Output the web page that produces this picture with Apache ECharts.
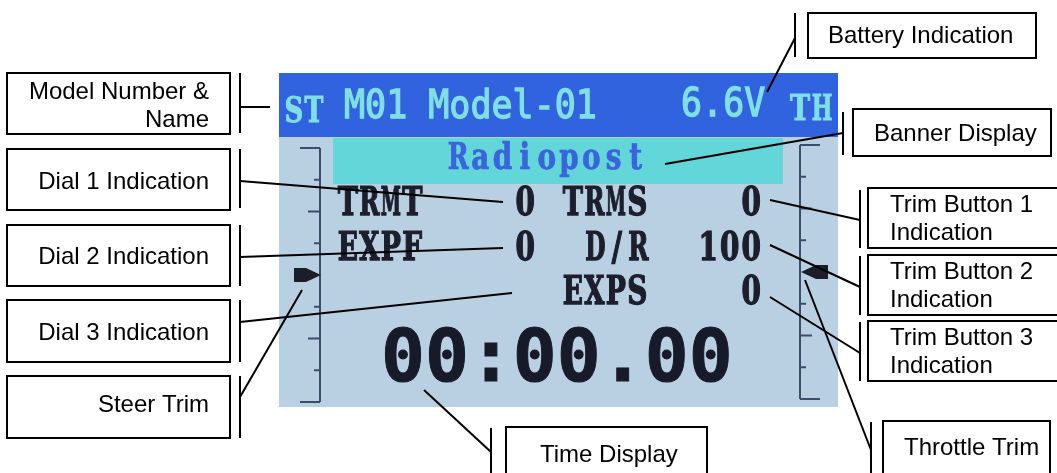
<!DOCTYPE html>
<html>
<head>
<meta charset="utf-8">
<script src="https://cdn.jsdelivr.net/npm/echarts@6/dist/echarts.min.js"></script>
<style>
html,body{margin:0;padding:0;background:#fff;}
#chart{width:1057px;height:473px;}
</style>
</head>
<body>
<div id="chart"></div>
<script>
// ---- Callout labels ----
const boxLabels = ['Model Number &\nName', 'Dial 1 Indication', 'Dial 2 Indication', 'Dial 3 Indication', 'Steer Trim',
  'Battery Indication', 'Banner Display', 'Trim Button 1\nIndication', 'Trim Button 2\nIndication', 'Trim Button 3\nIndication',
  'Throttle Trim', 'Time Display'];
const boxRects = [[7,73,230,134],[7,149,230,210],[7,225,230,286],[7,300,230,362],[7,376,230,438],
  [808,13,1036,58],[853,109,1051,156],[868,188,1062,248],[868,255,1062,315],[868,321,1062,381],
  [883,421,1050,480],[506,427,707,480]];
const labelAnchors = [[209,106,'right'],[209,182,'right'],[209,257,'right'],[209,333,'right'],[209,405,'right'],
  [828,36,'left'],[874,134,'left'],[890,219,'left'],[890,286,'left'],[890,352,'left'],
  [904,448,'left'],[540,455,'left']];
const brackets = [[240,73,133],[240,149,208],[240,225,286],[240,300,362],[240,376,438],
  [795,13,57],[843,112,155],[860,190,248],[860,256,315],[860,322,381],[871,422,473],[491,428,473]];
const leaders = [[240,107,270,107],[240,181,503,202],[240,257,503,248],[240,322,512,293],[240,397,302,290],
  [795,38,767,92],[843,133,665,164],[860,220,770,200],[860,287,770,245],[860,353,770,297],
  [871,450,805,280],[491,452,424,390]];

// ---- LCD screen ----
const lcdRects = [[279,73,838,137],[279,137,838,407],[333,138,783,184]];
const lcdRectColors = ['#3163de','#b9cfe2','#62d6d9'];
const lcdTexts = ['ST','M01 Model-01','6.6V','TH','Radiopost',
  'TRMT','0','TRMS','0','EXPF','0','D/R','100','EXPS','0','00:00.00'];
const lcdTextPos = [[284,113,'left'],[344,108,'left'],[681,106,'left'],[789,111,'left'],[447,159,'left'],
  [337,205,'left'],[536,205,'right'],[562,205,'left'],[762,205,'right'],
  [337,250,'left'],[536,250,'right'],[649,250,'right'],[762,250,'right'],
  [562,294,'left'],[762,294,'right'],[381,362,'left']];
const lcdTextKind = ['st','h','h','th','b','r','r','r','r','r','r','r','r','r','r','t'];

// trim scales: x, top, bottom, direction
const scales = [[320,148,402,-1],[800,145,399,1]];
const tickLens = [20,6,12,6,0,6,12,6,20];
const arrows = [[294,275,1],[828,272,-1]];

const chart = echarts.init(document.getElementById('chart'), null, {renderer:'canvas'});

function rectSeries(data, styleFn){
  return {type:'custom', coordinateSystem:'cartesian2d', silent:true, animation:false,
    encode:{x:[0,2], y:[1,3]},
    data: data.map(d=>({value:d})),
    renderItem:function(params, api){
      const p0 = api.coord([api.value(0), api.value(1)]);
      const p1 = api.coord([api.value(2), api.value(3)]);
      return {type:'rect', shape:{x:p0[0], y:p0[1], width:p1[0]-p0[0], height:p1[1]-p0[1]},
        style: styleFn(params.dataIndex)};
    }};
}

const SERIF = 'DejaVu Serif Condensed, DejaVu Serif';
const kindStyle = {
  st: {fontFamily:SERIF, fontSize:30, fontWeight:'bold', fill:'#80dfe2', scaleY:1.15, adv:20, stroke:0.8},
  th: {fontFamily:SERIF, fontSize:30, fontWeight:'bold', fill:'#80dfe2', scaleY:1.15, adv:22, stroke:0.8},
  h:  {fontFamily:'DejaVu Sans Mono', fontSize:35, fontWeight:'normal', fill:'#80dfe2', scaleY:1.1, adv:0, stroke:1.2},
  b:  {fontFamily:SERIF, fontSize:31, fontWeight:'bold', fill:'#3a63dc', scaleY:1.2, adv:22.2, stroke:0.6},
  r:  {fontFamily:SERIF, fontSize:31, fontWeight:'bold', fill:'#1c1e2c', scaleY:1.25, adv:21.5, stroke:1.0},
  t:  {fontFamily:'DejaVu Sans Mono', fontSize:73, fontWeight:'bold', fill:'#171a28', scaleY:1.0, adv:0, stroke:1.0}
};
const measureCtx = document.createElement('canvas').getContext('2d');
function glyphWidth(c, s){
  measureCtx.font = s.fontWeight + ' ' + s.fontSize + 'px ' + s.fontFamily;
  return measureCtx.measureText(c).width;
}

const option = {
  animation:false,
  grid:{left:0,right:0,top:0,bottom:0},
  xAxis:{type:'value', min:0, max:1057, show:false},
  yAxis:{type:'value', min:0, max:473, inverse:true, show:false},
  series:[
    rectSeries(lcdRects, i=>({fill:lcdRectColors[i]})),
    // trim scales
    {type:'custom', coordinateSystem:'cartesian2d', silent:true, animation:false,
      encode:{x:0,y:1}, data:scales.map(s=>({value:s})),
      renderItem:function(params, api){
        const x = api.value(0), t = api.value(1), b = api.value(2), dir = api.value(3);
        const children = [];
        const pa = api.coord([x,t]), pb = api.coord([x,b]);
        children.push({type:'line', shape:{x1:pa[0],y1:pa[1],x2:pb[0],y2:pb[1]}, style:{stroke:'#3e4b6a', lineWidth:2}});
        const n = tickLens.length-1;
        for(let k=0;k<=n;k++){
          const yv = t + (b-t)*k/n;
          if(!tickLens[k]) continue;
          const q0 = api.coord([x,yv]), q1 = api.coord([x+dir*tickLens[k],yv]);
          children.push({type:'line', shape:{x1:q0[0],y1:q0[1],x2:q1[0],y2:q1[1]}, style:{stroke:'#3e4b6a', lineWidth:2}});
        }
        return {type:'group', children};
      }},
    // trim arrows
    {type:'custom', coordinateSystem:'cartesian2d', silent:true, animation:false,
      encode:{x:0,y:1}, data:arrows.map(a=>({value:a})),
      renderItem:function(params, api){
        const x = api.value(0), y = api.value(1), d = api.value(2);
        const pts = [[x,y-7],[x+d*12,y-7],[x+d*27,y],[x+d*12,y+7],[x,y+7]].map(p=>api.coord(p));
        return {type:'polygon', shape:{points:pts}, style:{fill:'#1b1d28'}};
      }},
    // LCD texts
    {type:'custom', coordinateSystem:'cartesian2d', silent:true, animation:false,
      encode:{x:0,y:1}, data:lcdTextPos.map(p=>({value:[p[0],p[1]]})),
      renderItem:function(params, api){
        const i = params.dataIndex;
        const s = kindStyle[lcdTextKind[i]];
        const align = lcdTextPos[i][2];
        const p = api.coord([api.value(0), api.value(1)]);
        const str = lcdTexts[i];
        const base = {fontFamily:s.fontFamily, fontSize:s.fontSize, fontWeight:s.fontWeight, fill:s.fill,
          stroke:s.fill, lineWidth:s.stroke, verticalAlign:'middle'};
        if(!s.adv){
          return {type:'text', x:p[0], y:p[1], scaleY:s.scaleY, style:Object.assign({text:str, align:align}, base)};
        }
        const advPx = api.size([s.adv, 0])[0];
        const start = align === 'left' ? p[0] : p[0] - str.length*advPx;
        const children = str.split('').map((c,j)=>{
          const w = glyphWidth(c, s);
          const sx = Math.min(1, advPx*0.94/Math.max(w,1));
          return {type:'text', x:start + (j+0.5)*advPx, y:p[1], scaleX:sx, scaleY:s.scaleY,
            style:Object.assign({text:c, align:'center'}, base)};
        });
        return {type:'group', children};
      }},
    // leader lines
    {type:'custom', coordinateSystem:'cartesian2d', silent:true, animation:false,
      encode:{x:[0,2], y:[1,3]}, data:leaders.map(l=>({value:l})),
      renderItem:function(params, api){
        const a = api.coord([api.value(0), api.value(1)]), b = api.coord([api.value(2), api.value(3)]);
        return {type:'line', shape:{x1:a[0],y1:a[1],x2:b[0],y2:b[1]}, style:{stroke:'#000', lineWidth:2}};
      }},
    // brackets
    {type:'custom', coordinateSystem:'cartesian2d', silent:true, animation:false,
      encode:{x:0, y:[1,2]}, data:brackets.map(b=>({value:b})),
      renderItem:function(params, api){
        const a = api.coord([api.value(0), api.value(1)]), b = api.coord([api.value(0), api.value(2)]);
        return {type:'line', shape:{x1:a[0],y1:a[1],x2:b[0],y2:b[1]}, style:{stroke:'#000', lineWidth:2}};
      }},
    // label boxes
    rectSeries(boxRects, i=>({fill:'#fff', stroke:'#000', lineWidth:2})),
    // label texts
    {type:'custom', coordinateSystem:'cartesian2d', silent:true, animation:false,
      encode:{x:0,y:1}, data:labelAnchors.map(p=>({value:[p[0],p[1]]})),
      renderItem:function(params, api){
        const i = params.dataIndex;
        const p = api.coord([api.value(0), api.value(1)]);
        return {type:'text', x:p[0], y:p[1],
          style:{text:boxLabels[i], fontFamily:'Liberation Sans', fontSize:24, fill:'#000', lineHeight:28,
            align:labelAnchors[i][2], verticalAlign:'middle'}};
      }}
  ]
};
chart.setOption(option);
</script>
</body>
</html>
